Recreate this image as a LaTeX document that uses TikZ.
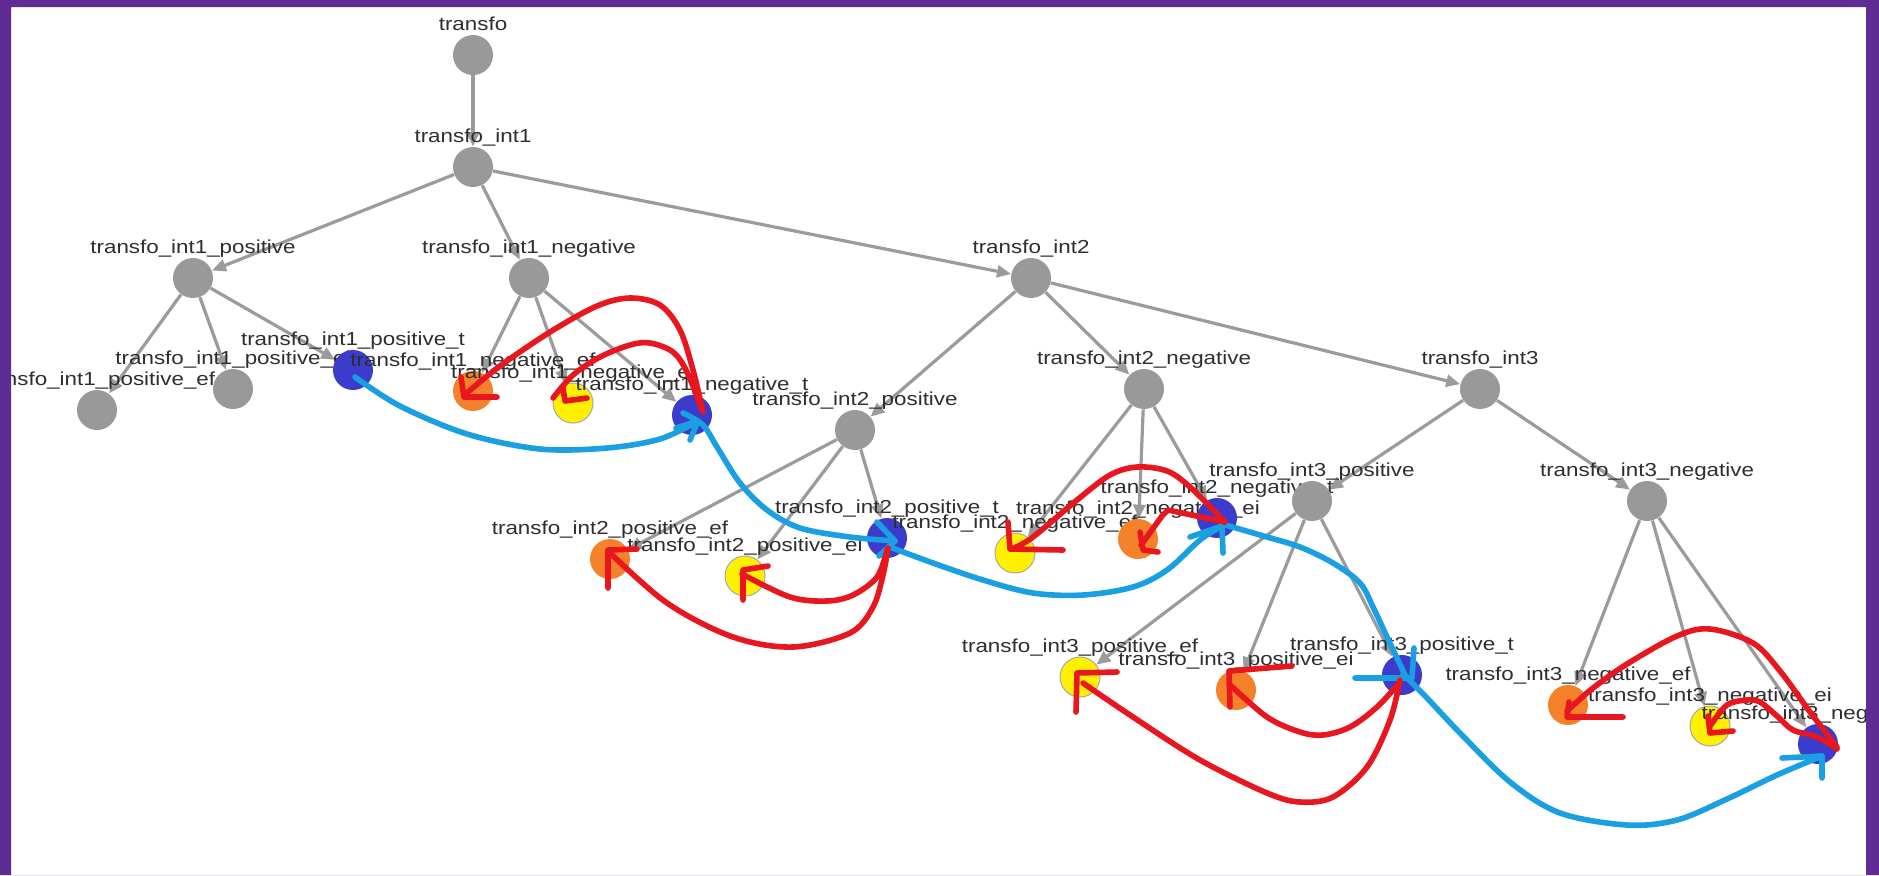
\documentclass[tikz,border=0pt]{standalone}
\usepackage{fontspec}
\setmainfont{Liberation Sans}
\usepackage{graphicx}
\usetikzlibrary{arrows.meta}
\definecolor{framecol}{HTML}{5F2C96}
\definecolor{ngray}{HTML}{999999}
\definecolor{egray}{HTML}{9B9B9B}
\definecolor{nblue}{HTML}{3B3BCC}
\definecolor{norange}{HTML}{F5822A}
\definecolor{nyellow}{HTML}{FFF000}
\definecolor{txtcol}{HTML}{2E2E2E}
\definecolor{redcol}{HTML}{E8161E}
\definecolor{cyancol}{HTML}{1AA0E2}
\pgfdeclarelayer{back}\pgfdeclarelayer{edges}\pgfdeclarelayer{annot}\pgfdeclarelayer{front}
\pgfsetlayers{back,edges,main,annot,front}
\newcommand\lab[1]{\scalebox{1.19}[1]{#1}}
\newcommand\vn[5]{\node[#4] (#1) at (#2,#3) {}; \node[lbl] (#1-l) at (#2,#3-25) {\lab{#5}};}
\begin{document}
\begin{tikzpicture}[x=0.5pt,y=-0.5pt,
  gnode/.style={circle,inner sep=0pt,minimum size=20pt,fill=ngray},
  bnode/.style={gnode,fill=nblue},
  onode/.style={gnode,fill=norange},
  ynode/.style={gnode,fill=nyellow,draw=gray!70,line width=0.5pt},
  lbl/.style={anchor=base,inner sep=0pt,text=txtcol,font=\fontsize{9.4}{11}\selectfont},
  edge/.style={draw=egray,line width=1.6pt,-{Triangle[length=7pt,width=6pt]}},
  redpen/.style={draw=redcol,line width=2.8pt,line cap=round,line join=round},
  bluepen/.style={draw=cyancol,line width=2.8pt,line cap=round,line join=round},
  sm/.style={smooth,tension=0.55}]
\useasboundingbox (0,0) rectangle (1879,875);
\begin{pgfonlayer}{back}
\fill[white] (0,0) rectangle (1879,875);
\end{pgfonlayer}
% nodes
\vn{t0}{473}{55}{gnode}{transfo}
\vn{i1}{473}{167}{gnode}{transfo\_int1}
\vn{i1p}{193}{278}{gnode}{transfo\_int1\_positive}
\vn{i1n}{529}{278}{gnode}{transfo\_int1\_negative}
\vn{i2}{1031}{278}{gnode}{transfo\_int2}
\vn{i1pef}{97}{410}{gnode}{transfo\_int1\_positive\_ef}
\vn{i1pei}{233}{389}{gnode}{transfo\_int1\_positive\_ei}
\vn{i1pt}{353}{370}{bnode}{transfo\_int1\_positive\_t}
\vn{i1nef}{473}{391}{onode}{transfo\_int1\_negative\_ef}
\vn{i1nei}{573}{403}{ynode}{transfo\_int1\_negative\_ei}
\vn{i1nt}{692}{415}{bnode}{transfo\_int1\_negative\_t}
\vn{i2p}{855}{430}{gnode}{transfo\_int2\_positive}
\vn{i2n}{1144}{389}{gnode}{transfo\_int2\_negative}
\vn{i3}{1480}{389}{gnode}{transfo\_int3}
\vn{i2pef}{610}{559}{onode}{transfo\_int2\_positive\_ef}
\vn{i2pei}{745}{576}{ynode}{transfo\_int2\_positive\_ei}
\vn{i2pt}{887}{538}{bnode}{transfo\_int2\_positive\_t}
\vn{i2nef}{1015}{553}{ynode}{transfo\_int2\_negative\_ef}
\vn{i2nei}{1138}{539}{onode}{transfo\_int2\_negative\_ei}
\vn{i2nt}{1217}{518}{bnode}{transfo\_int2\_negative\_t}
\vn{i3p}{1312}{501}{gnode}{transfo\_int3\_positive}
\vn{i3n}{1647}{501}{gnode}{transfo\_int3\_negative}
\vn{i3pef}{1080}{677}{ynode}{transfo\_int3\_positive\_ef}
\vn{i3pei}{1236}{690}{onode}{transfo\_int3\_positive\_ei}
\vn{i3pt}{1402}{675}{bnode}{transfo\_int3\_positive\_t}
\vn{i3nef}{1568}{705}{onode}{transfo\_int3\_negative\_ef}
\vn{i3nei}{1710}{726}{ynode}{transfo\_int3\_negative\_ei}
\vn{i3nt}{1818}{744}{bnode}{transfo\_int3\_negative\_t}
% tree edges
\begin{pgfonlayer}{edges}
\draw[edge] (t0) -- (i1);
\draw[edge] (i1) -- (i1p);
\draw[edge] (i1) -- (i1n);
\draw[edge] (i1) -- (i2);
\draw[edge] (i1p) -- (i1pef);
\draw[edge] (i1p) -- (i1pei);
\draw[edge] (i1p) -- (i1pt);
\draw[edge] (i1n) -- (i1nef);
\draw[edge] (i1n) -- (i1nei);
\draw[edge] (i1n) -- (i1nt);
\draw[edge] (i2) -- (i2p);
\draw[edge] (i2) -- (i2n);
\draw[edge] (i2) -- (i3);
\draw[edge] (i2p) -- (i2pef);
\draw[edge] (i2p) -- (i2pei);
\draw[edge] (i2p) -- (i2pt);
\draw[edge] (i2n) -- (i2nef);
\draw[edge] (i2n) -- (i2nei);
\draw[edge] (i2n) -- (i2nt);
\draw[edge] (i3) -- (i3p);
\draw[edge] (i3) -- (i3n);
\draw[edge] (i3p) -- (i3pef);
\draw[edge] (i3p) -- (i3pei);
\draw[edge] (i3p) -- (i3pt);
\draw[edge] (i3n) -- (i3nef);
\draw[edge] (i3n) -- (i3nei);
\draw[edge] (i3n) -- (i3nt);
\end{pgfonlayer}
% hand-drawn annotations
\begin{pgfonlayer}{annot}
% cyan path
\draw[bluepen] plot[sm] coordinates {(355,377) (400,406) (467,434) (540,449) (607,448) (660,439) (698,421)};
\draw[bluepen] (676,428) -- (698,421) -- (690,440);
\draw[bluepen] plot[sm] coordinates {(683,413) (703,425) (717,447) (740,483) (767,510) (800,528) (850,537) (895,541)};
\draw[bluepen] (877,522) -- (895,541) -- (879,556);
\draw[bluepen] plot[sm] coordinates {(890,547) (933,563) (983,580) (1033,593) (1083,595) (1133,587) (1167,570) (1200,540) (1222,526)};
\draw[bluepen] (1190,537) -- (1222,526) -- (1223,553);
\draw[bluepen] plot[sm] coordinates {(1222,524) (1267,537) (1300,547) (1333,563) (1360,583) (1373,607) (1387,637) (1406,677)};
\draw[bluepen] (1355,678) -- (1412,678) -- (1414,648);
\draw[bluepen] plot[sm] coordinates {(1403,674) (1427,698) (1460,733) (1510,782) (1560,813) (1627,825) (1677,820) (1727,799) (1777,775) (1822,756)};
\draw[bluepen] (1782,758) -- (1822,756) -- (1822,778);
% red paths
\draw[redpen] plot[sm] coordinates {(703,412) (693,370) (680,330) (660,305) (630,298) (597,306) (550,332) (500,366) (468,392)};
\draw[redpen] (461,377) -- (464,397) -- (497,397);
\draw[redpen] plot[sm] coordinates {(702,410) (687,372) (673,352) (650,343) (630,345) (600,357) (573,375) (553,398)};
\draw[redpen] (563,388) -- (565,401) -- (587,398);
\draw[redpen] plot[sm] coordinates {(888,548) (883,575) (873,607) (850,633) (793,647) (733,637) (667,603) (608,551)};
\draw[redpen] (608,588) -- (608,550) -- (637,549);
\draw[redpen] plot[sm] coordinates {(887,550) (877,577) (853,595) (827,601) (790,597) (742,574)};
\draw[redpen] (743,600) -- (743,570) -- (768,566);
\draw[redpen] plot[sm] coordinates {(1225,522) (1190,487) (1167,471) (1137,467) (1110,475) (1077,500) (1033,537) (1012,549)};
\draw[redpen] (1008,522) -- (1010,549) -- (1063,550);
\draw[redpen] (1225,522) -- (1168,510) -- (1162,516) -- (1141,545);
\draw[redpen] (1140,532) -- (1143,550) -- (1158,552);
\draw[redpen] plot[sm] coordinates {(1400,680) (1390,720) (1367,767) (1333,797) (1300,802) (1267,793) (1200,760) (1133,717) (1083,683)};
\draw[redpen] (1076,712) -- (1077,673) -- (1117,672);
\draw[redpen] plot[sm] coordinates {(1400,682) (1377,707) (1350,727) (1323,735) (1300,732) (1267,717) (1229,684)};
\draw[redpen] (1230,707) -- (1229,671) -- (1292,666);
\draw[redpen] plot[sm] coordinates {(1837,747) (1810,712) (1780,671) (1753,643) (1710,629) (1677,636) (1627,664) (1593,688) (1567,711)};
\draw[redpen] (1569,702) -- (1567,717) -- (1623,717);
\draw[redpen] plot[sm] coordinates {(1837,749) (1817,737) (1793,730) (1777,716) (1760,702) (1747,700) (1727,705) (1710,726)};
\draw[redpen] (1708,716) -- (1710,733) -- (1733,731);
\end{pgfonlayer}
\begin{pgfonlayer}{front}
\fill[framecol,even odd rule] (0,0) rectangle (1879,875) (11,7) rectangle (1866,875);
\end{pgfonlayer}
\end{tikzpicture}
\end{document}
